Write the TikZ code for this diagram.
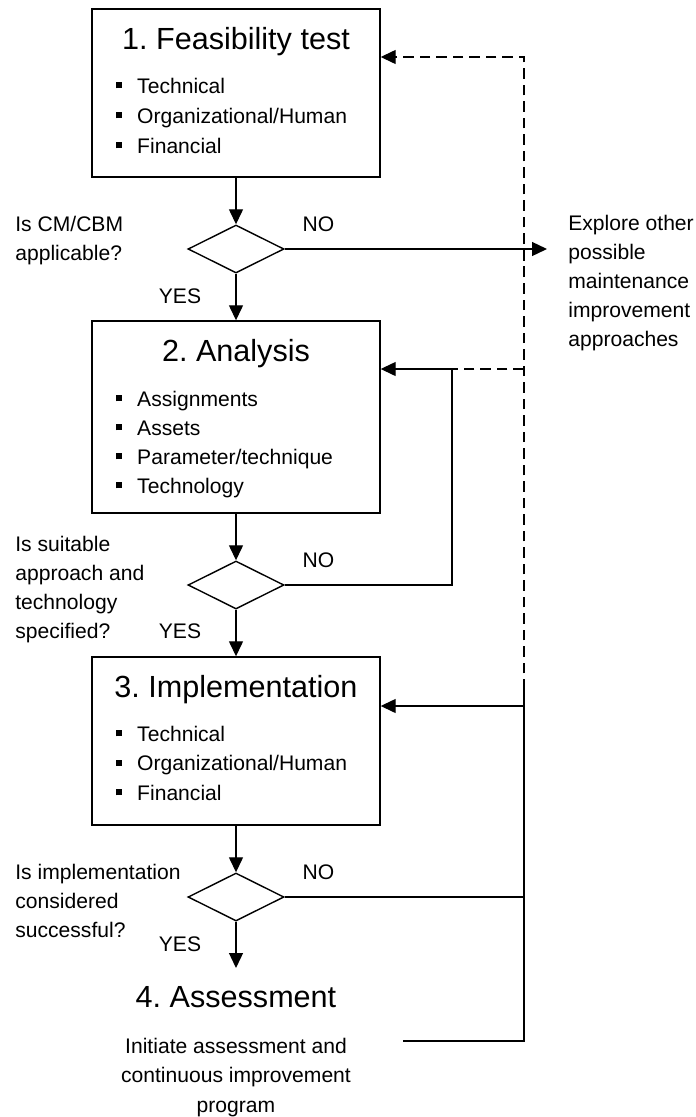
\documentclass[tikz,border=0pt]{standalone}
\usepackage{fontspec}
\setmainfont{Liberation Sans}
\usetikzlibrary{arrows.meta,shapes.geometric}
\frenchspacing
\newcommand{\sqbul}{\makebox[0.99em][l]{\rule[0.22em]{0.28em}{0.28em}}}
\tikzset{
  stage/.style={draw, line width=0.8pt, minimum width=5.76cm, inner sep=0pt},
  test/.style={draw, diamond, aspect=2, line width=0.8pt, minimum width=1.92cm,
              minimum height=0.96cm, inner sep=0pt},
  head/.style={font=\fontsize{17.4}{20}\selectfont, anchor=base, inner sep=0pt},
  txt/.style={font=\fontsize{12}{14}\selectfont, anchor=base west, inner sep=0pt},
  lbl/.style={font=\fontsize{12}{14}\selectfont, anchor=base, inner sep=0pt},
  flow/.style={-{Triangle[length=3mm,width=2.8mm]}, line width=0.75pt},
  link/.style={line width=0.75pt},
  back/.style={line width=0.75pt, dash pattern=on 6pt off 3.4pt},
}
\begin{document}
\begin{tikzpicture}
        \useasboundingbox (0,0) rectangle (13.92,-22.34);
        % stages
        \node[stage,minimum height=3.36cm] (b1) at (4.72,-1.86) {};
        \node[stage,minimum height=3.84cm] (b2) at (4.72,-8.34) {};
        \node[stage,minimum height=3.36cm] (b3) at (4.72,-14.82) {};
        \node[head] (h1) at (4.72,-0.98) {1. Feasibility test};
        \node[head] (h2) at (4.72,-7.22) {2. Analysis};
        \node[head] (h3) at (4.72,-13.94) {3. Implementation};
        \node[head] (h4) at (4.72,-20.14) {4. Assessment};
        \foreach \t [count=\i from 0] in {Technical,Organizational/Human,Financial}
          \node[txt] (p1-\i) at (2.32,{-1.86-0.6*\i}) {\sqbul\t};
        \foreach \t [count=\i from 0] in {Assignments,Assets,Parameter/technique,Technology}
          \node[txt] (p2-\i) at (2.32,{-8.12-0.58*\i}) {\sqbul\t};
        \foreach \t [count=\i from 0] in {Technical,Organizational/Human,Financial}
          \node[txt] (p3-\i) at (2.32,{-14.82-0.59*\i}) {\sqbul\t};
        \foreach \t [count=\i from 0] in {Initiate assessment and,continuous improvement,program}
          \node[lbl] (p4-\i) at (4.72,{-21.06-0.59*\i}) {\t};
        % decisions
        \node[test] (d1) at (4.72,-4.98) {};
        \node[test] (d2) at (4.72,-11.70) {};
        \node[test] (d3) at (4.72,-17.94) {};
        \foreach \t [count=\i from 0] in {Is CM/CBM,applicable?}
          \node[txt] (q1-\i) at (0.30,{-4.62-0.58*\i}) {\t};
        \foreach \t [count=\i from 0] in {Is suitable,approach and,technology,specified?}
          \node[txt] (q2-\i) at (0.30,{-11.02-0.58*\i}) {\t};
        \foreach \t [count=\i from 0] in {Is implementation,considered,successful?}
          \node[txt] (q3-\i) at (0.30,{-17.58-0.58*\i}) {\t};
        \foreach \t [count=\i from 0] in {Explore other,possible,maintenance,improvement,approaches}
          \node[txt] (x-\i) at (11.36,{-4.60-0.58*\i}) {\t};
        \node[lbl] (n1) at (6.37,-4.62) {NO};
        \node[lbl] (n2) at (6.37,-11.34) {NO};
        \node[lbl] (n3) at (6.37,-17.58) {NO};
        \node[lbl] (y1) at (3.60,-6.06) {YES};
        \node[lbl] (y2) at (3.60,-12.76) {YES};
        \node[lbl] (y3) at (3.60,-19.02) {YES};
        % main flow
        \coordinate (a4) at (4.72,-19.36);
        \draw[flow] (b1.south) -- (d1.north);
        \draw[flow] (d1.south) -- (b2.north);
        \draw[flow] (b2.south) -- (d2.north);
        \draw[flow] (d2.south) -- (b3.north);
        \draw[flow] (b3.south) -- (d3.north);
        \draw[flow] (d3.south) -- (a4);
        % loops back
        \coordinate (xp) at (10.94,-4.98);
        \coordinate (r0) at (10.48,-1.14);
        \coordinate (r2) at (10.48,-7.38);
        \coordinate (k2) at (9.04,-7.38);
        \coordinate (r3) at (10.48,-14.12);
        \coordinate (rs) at (10.48,-13.80);
        \coordinate (r4) at (10.48,-20.82);
        \coordinate (e4) at (8.06,-20.82);
        \draw[flow] (d1.east) -- (xp);
        \draw[back,-{Triangle[length=3mm,width=2.8mm]}] (rs) -- (r0) -- (b1.east |- r0);
        \draw[back] (r2) -- (k2);
        \draw[flow] (d2.east) -| (k2) -- (b2.east |- k2);
        \draw[flow] (r3) -- (b3.east |- r3);
        \draw[link] (d3.east) -- (d3.east -| r3);
        \draw[link] (e4) -- (r4) -- (rs);
      \end{tikzpicture}
\end{document}
